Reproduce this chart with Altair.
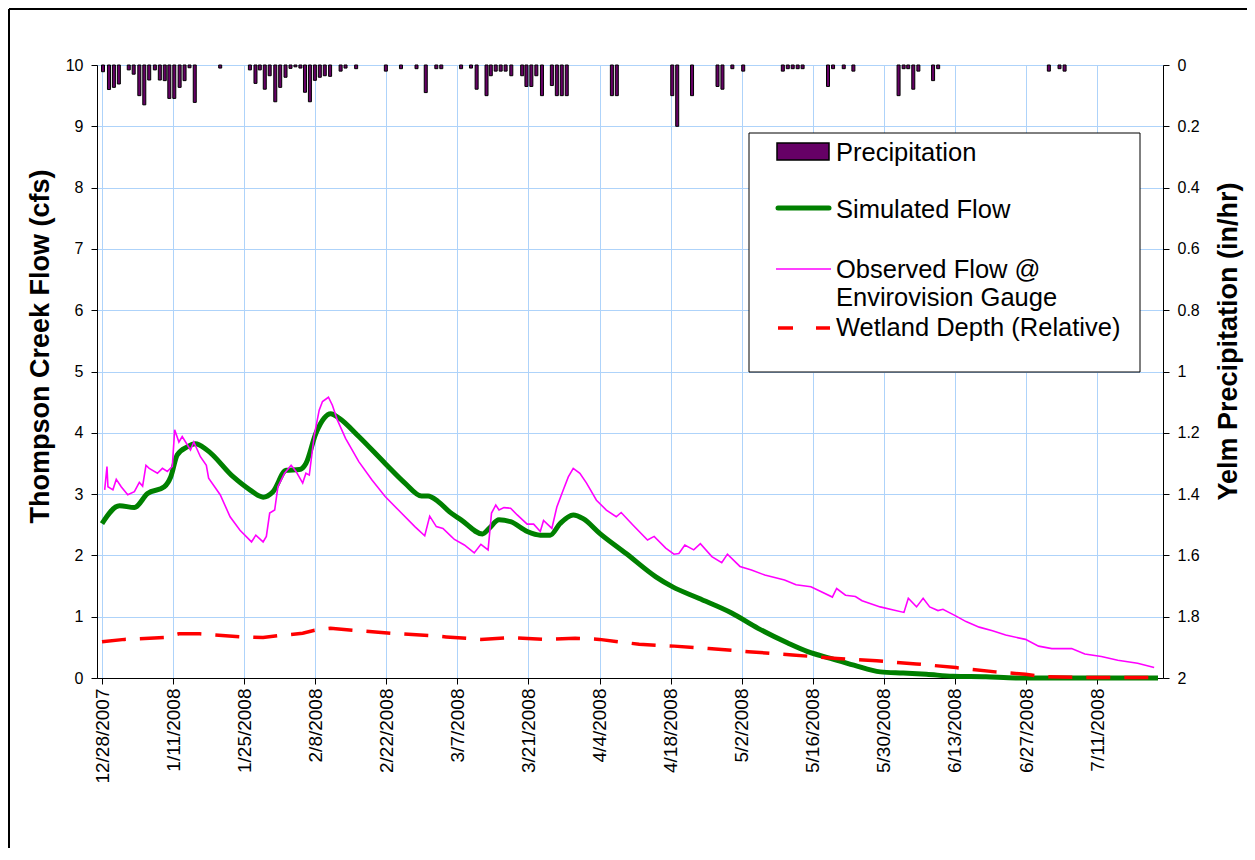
import altair as alt
import pandas as pd

# ---- data (x = days since 12/28/2007) ----
precip_day = [0.2, 1.37, 2.34, 3.32, 5.27, 6.24, 7.35, 8.33, 9.3, 10.41, 11.39, 12.36, 13.26, 14.24,
              15.29, 16.26, 17.24, 18.27, 23.28, 29.13, 30.23, 31.08, 32.06, 33.03, 34.13, 35.1,
              36.15, 37.13, 38.1, 39.08, 39.98, 40.95, 41.93, 42.9, 43.88, 44.93, 47.0, 47.97,
              50.06, 55.91, 58.89, 61.95, 63.77, 65.85, 66.83, 70.73, 72.68, 73.79, 75.74, 76.58,
              77.55, 78.53, 79.5, 80.62, 82.76, 83.6, 84.57, 85.55, 86.66, 88.61, 89.59, 90.56,
              91.54, 100.43, 101.4, 112.32, 113.3, 116.22, 121.24, 122.21, 124.16, 126.3, 134.1,
              135.08, 136.05, 137.03, 138.0, 143.0, 144.0, 146.1, 148.0, 156.9, 157.9, 158.8,
              159.8, 160.8, 163.7, 164.7, 186.5, 188.6, 189.6]
precip_rate = [0.022, 0.08, 0.073, 0.062, 0.016, 0.03, 0.10, 0.13, 0.049, 0.016, 0.049, 0.051, 0.109, 0.109,
               0.073, 0.051, 0.009, 0.122, 0.01, 0.016, 0.06, 0.016, 0.079, 0.035, 0.12, 0.073,
               0.04, 0.011, 0.006, 0.01, 0.089, 0.12, 0.05, 0.04, 0.035, 0.037, 0.02, 0.01,
               0.012, 0.02, 0.012, 0.012, 0.09, 0.012, 0.012, 0.012, 0.01, 0.079, 0.10, 0.035,
               0.02, 0.02, 0.02, 0.035, 0.035, 0.07, 0.07, 0.035, 0.10, 0.067, 0.10, 0.10,
               0.10, 0.10, 0.10, 0.10, 0.20, 0.10, 0.07, 0.079, 0.012, 0.02, 0.02,
               0.012, 0.012, 0.012, 0.012, 0.07, 0.012, 0.012, 0.02, 0.10, 0.012, 0.012,
               0.079, 0.02, 0.051, 0.012, 0.02, 0.012, 0.02]

sim_day = [0, 3.45, 6.38, 8.97, 12.27, 13.53, 14.82, 16.77, 18.41, 20.67, 25.88, 29.13, 31.73, 33.68,
           36.27, 38.88, 40.17, 42.12, 43.76, 45.05, 46.68, 50.58, 55.77, 59.67, 62.93, 64.23, 66.19,
           68.45, 70.73, 74.96, 76.25, 78.2, 80.48, 83.74, 86.33, 88.28, 90.23, 92.82, 94.77, 98.03,
           103.24, 109.09, 112.32, 117.53, 124.02, 129.23, 135.08, 139.0, 143.5, 148.1, 153.3,
           157.8, 162.4, 167.6, 174.1, 180.0, 208.0]
sim_flow = [2.52, 2.81, 2.78, 3.01, 3.12, 3.28, 3.64, 3.77, 3.82, 3.72, 3.28, 3.07, 2.95, 3.04,
            3.39, 3.40, 3.50, 3.99, 4.24, 4.31, 4.24, 3.94, 3.50, 3.18, 2.97, 2.97, 2.88,
            2.71, 2.58, 2.35, 2.44, 2.58, 2.55, 2.39, 2.33, 2.33, 2.52, 2.66, 2.60, 2.36,
            2.03, 1.65, 1.49, 1.30, 1.06, 0.81, 0.57, 0.43, 0.32, 0.21, 0.10,
            0.08, 0.06, 0.03, 0.02, 0.0, 0.0]

obs_day = [0.53, 0.98, 1.17, 2.15, 2.81, 3.78, 5.07, 6.38, 7.35, 8.0, 8.66, 9.3, 10.92, 11.9, 12.87,
           13.85, 14.31, 15.15, 15.8, 17.43, 18.08, 19.38, 20.55, 21.0, 23.28, 25.23, 27.18, 29.45,
           30.3, 31.73, 32.37, 33.03, 34.01, 34.65, 35.96, 37.25, 38.22, 39.53, 40.17, 40.83, 41.81,
           42.78, 43.43, 44.6, 45.38, 46.35, 47.97, 50.58, 53.18, 55.77, 58.39, 61.62, 63.57, 64.55,
           65.85, 67.16, 68.78, 69.42, 71.37, 73.32, 74.63, 76.05, 76.72, 77.56, 78.2, 79.17, 80.48,
           81.79, 83.74, 85.02, 86.33, 86.97, 88.61, 89.59, 90.87, 91.85, 92.82, 94.13, 95.44, 97.39,
           99.34, 101.29, 102.26, 104.52, 107.45, 108.76, 111.04, 112.66, 113.63, 114.8, 116.55,
           117.86, 120.12, 122.07, 123.19, 125.66, 127.92, 130.54, 134.44, 136.7, 139.63, 141.58,
           143.86, 144.7, 146.45, 148.4, 149.71, 153.28, 155.89, 157.96, 158.82, 160.44, 161.74,
           163.03, 164.67, 165.64, 168.24, 170.19, 172.78, 175.4, 177.99, 181.89, 184.48, 187.09,
           190.99, 193.59, 196.84, 200.08, 203.98, 207.24]
obs_flow = [3.07, 3.45, 3.12, 3.07, 3.24, 3.12, 2.99, 3.04, 3.19, 3.13, 3.47, 3.42, 3.34, 3.42, 3.37,
            3.45, 4.05, 3.85, 3.94, 3.72, 3.85, 3.61, 3.47, 3.26, 2.99, 2.63, 2.41, 2.22,
            2.33, 2.22, 2.31, 2.69, 2.74, 3.12, 3.34, 3.47, 3.37, 3.18, 3.34, 3.31, 3.96,
            4.37, 4.51, 4.58, 4.45, 4.21, 3.91, 3.53, 3.23, 2.96, 2.74, 2.47, 2.32, 2.64,
            2.47, 2.44, 2.31, 2.26, 2.17, 2.04, 2.18, 2.09, 2.69, 2.82, 2.74, 2.78, 2.77,
            2.66, 2.51, 2.51, 2.39, 2.57, 2.44, 2.79, 3.07, 3.28, 3.42, 3.34, 3.18, 2.90,
            2.74, 2.63, 2.70, 2.50, 2.25, 2.31, 2.12, 2.02, 2.03, 2.17, 2.09,
            2.19, 1.98, 1.88, 2.02, 1.82, 1.76, 1.68, 1.60, 1.52, 1.49, 1.41,
            1.32, 1.46, 1.35, 1.33, 1.26, 1.16, 1.11, 1.07, 1.30, 1.16, 1.30,
            1.16, 1.10, 1.12, 1.01, 0.92, 0.83, 0.77, 0.70, 0.63, 0.52, 0.48,
            0.48, 0.39, 0.35, 0.29, 0.24, 0.17]

wet_day = [0, 4.43, 12.23, 15.15, 19.25, 27.83, 31.73, 34.65, 39.53, 41.87, 45.0, 49.3, 57.1, 64.9,
           67.8, 74.6, 80.5, 87.3, 93.2, 98.0, 105.8, 112.7, 119.5, 127.3, 136.0, 144.8, 152.6,
           160.4, 168.2, 176.0, 181.9, 185.7, 191.6, 208.0]
wet_depth = [0.59, 0.63, 0.66, 0.72, 0.72, 0.67, 0.66, 0.69, 0.73, 0.78, 0.81, 0.78, 0.73, 0.69,
             0.67, 0.63, 0.66, 0.63, 0.65, 0.63, 0.55, 0.52, 0.48, 0.43, 0.375, 0.32, 0.28,
             0.23, 0.17, 0.10, 0.06, 0.02, 0.01, 0.01]

tick_days = list(range(0, 197, 14))
left_ticks = list(range(0, 11))
right_ticks = [0, 0.2, 0.4, 0.6, 0.8, 1, 1.2, 1.4, 1.6, 1.8, 2]

legend_labels = ["Precipitation", "Simulated Flow", "Observed Flow @", "Envirovision Gauge",
                 "Wetland Depth (Relative)"]

# ---- frames ----
precip_df = pd.DataFrame({"day": precip_day, "rate": precip_rate})
sim_df = pd.DataFrame({"day": sim_day, "flow": sim_flow})
obs_df = pd.DataFrame({"day": obs_day, "flow": obs_flow})
wet_df = pd.DataFrame({"day": wet_day, "flow": wet_depth})
one = pd.DataFrame({"k": [0]})

W, H = 1066, 613
FONT = "Liberation Sans"
GRID = "#aed3fa"

x_enc = alt.X(
    "day:Q",
    scale=alt.Scale(domain=[0, 208], nice=False, zero=False),
    axis=alt.Axis(
        values=tick_days,
        labelExpr="utcFormat(utc(2007, 11, 28 + datum.value), '%-m/%-d/%Y')",
        labelAngle=270, labelFontSize=19, labelPadding=4, labelOverlap=False,
        labelFlush=False, tickSize=6, grid=True, gridColor=GRID, title=None,
    ),
)

y_flow = alt.Y(
    "flow:Q",
    scale=alt.Scale(domain=[0, 10], nice=False, zero=True),
    axis=alt.Axis(
        values=left_ticks, title="Thompson Creek Flow (cfs)", grid=True, gridColor=GRID,
        labelFontSize=16, labelPadding=8, tickSize=6,
        titleFontSize=27, titleFontWeight="bold", titleAngle=270,
        titleX=-57, titleY=281, titleAlign="center", titleBaseline="middle",
    ),
)

sim = alt.Chart(sim_df).mark_line(color="#008000", strokeWidth=5, interpolate="monotone").encode(
    x=x_enc, y=y_flow)
obs = alt.Chart(obs_df).mark_line(color="#ff00ff", strokeWidth=1.6).encode(x=x_enc, y=y_flow)
wet = alt.Chart(wet_df).mark_line(color="#ff0000", strokeWidth=3.5, strokeDash=[24, 14]).encode(
    x=x_enc, y=y_flow)
flows = alt.layer(sim, obs, wet)

precip = alt.Chart(precip_df).mark_bar(width=3, fill="#660066", stroke="black", strokeWidth=1).encode(
    x=x_enc,
    y=alt.Y(
        "rate:Q",
        scale=alt.Scale(domain=[0, 2], reverse=True, nice=False),
        axis=alt.Axis(
            orient="right", values=right_ticks, format="~g", grid=False,
            title="Yelm Precipitation (in/hr)", labelFontSize=16, labelPadding=8, tickSize=6,
            titleFontSize=27, titleFontWeight="bold", titleAngle=270,
            titleX=65, titleY=276, titleAlign="center", titleBaseline="middle",
        ),
    ),
)

# ---- legend (drawn box) ----
leg_box = alt.Chart(one).mark_rect(fill="white", stroke="black", strokeWidth=1).encode(
    x=alt.value(652), x2=alt.value(1043), y=alt.value(68), y2=alt.value(307))
leg_sw = alt.Chart(one).mark_rect(fill="#660066", stroke="black", strokeWidth=1.5).encode(
    x=alt.value(680), x2=alt.value(732), y=alt.value(78), y2=alt.value(95))
leg_sim = alt.Chart(one).mark_rule(color="#008000", strokeWidth=5, strokeCap="round").encode(
    x=alt.value(681), x2=alt.value(732), y=alt.value(143))
leg_obs = alt.Chart(one).mark_rule(color="#ff00ff", strokeWidth=1.6).encode(
    x=alt.value(679), x2=alt.value(734), y=alt.value(204))
leg_wet = alt.Chart(one).mark_rule(color="#ff0000", strokeWidth=3.5, strokeDash=[15, 23]).encode(
    x=alt.value(681), x2=alt.value(733), y=alt.value(263))

leg_y = [88, 145, 205, 233, 263]
leg_texts = [
    alt.Chart(one).mark_text(align="left", baseline="middle", fontSize=25.5, font=FONT, color="black").encode(
        x=alt.value(739), y=alt.value(yy), text=alt.value(lbl))
    for lbl, yy in zip(legend_labels, leg_y)
]

# outer chart border (top and left edges visible in the reference)
frame_top = alt.Chart(one).mark_rule(color="black", strokeWidth=2).encode(
    x=alt.value(-88), x2=alt.value(1160), y=alt.value(-56))
frame_left = alt.Chart(one).mark_rule(color="black", strokeWidth=2).encode(
    x=alt.value(-88), y=alt.value(-56), y2=alt.value(800))

chart = alt.layer(
    frame_top, frame_left, precip, flows, leg_box, leg_sw, leg_sim, leg_obs, leg_wet, *leg_texts
).resolve_scale(y="independent").properties(
    width=W, height=H,
    autosize=alt.AutoSizeParams(type="none"),
    padding={"left": 89, "top": 57, "right": 84, "bottom": 170},
    background="white",
).configure_view(
    stroke="#808080", strokeWidth=1
).configure_axis(
    domainColor="black", tickColor="black", labelColor="black", titleColor="black",
    labelFont=FONT, titleFont=FONT, domainWidth=1, tickWidth=1, gridWidth=1,
)

chart.save("out.html", embed_options={"renderer": "svg", "actions": False})
